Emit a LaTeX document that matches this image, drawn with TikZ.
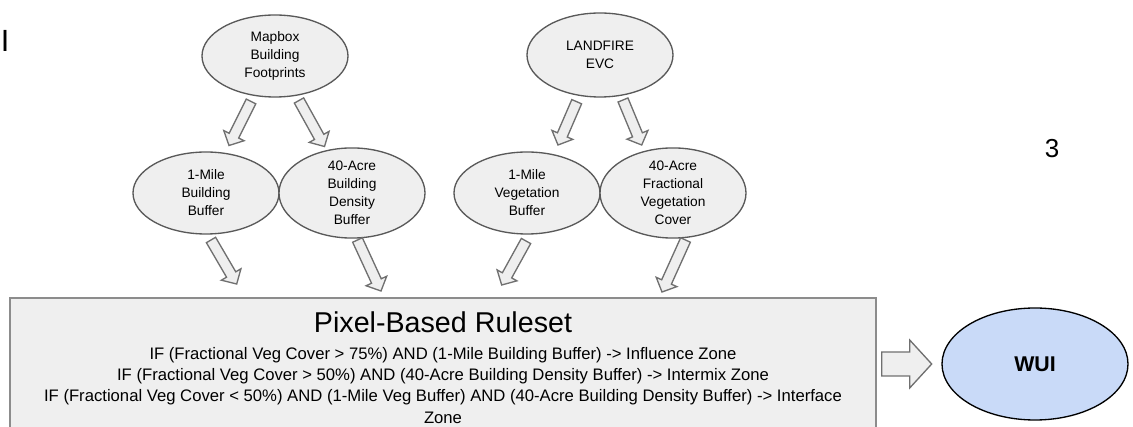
\documentclass[tikz,border=0pt]{standalone}
\usepackage{fontspec}
\setmainfont{Liberation Sans}
\usetikzlibrary{calc,shapes.geometric}
\definecolor{nodefill}{HTML}{EFEFEF}
\definecolor{nodeline}{HTML}{595959}
\definecolor{arrowline}{HTML}{707070}
\definecolor{boxline}{HTML}{8C8C8C}
\definecolor{wuifill}{HTML}{C9DAF8}
% block arrow: #1 start, #2 end, #3 shaft half width, #4 head half width, #5 head length
\newcommand\blockarrow[5]{%
  \coordinate (batmp) at ($(#2)!#5!(#1)$);
  \draw[blockarr] ($(#1)!#3!90:(#2)$) -- ($(batmp)!#3!90:(#2)$) -- ($(batmp)!#4!90:(#2)$)
    -- (#2) -- ($(batmp)!#4!-90:(#2)$) -- ($(batmp)!#3!-90:(#2)$) -- ($(#1)!#3!-90:(#2)$) -- cycle;}
\tikzset{
  src/.style={ellipse, draw=nodeline, fill=nodefill, line width=1pt, inner sep=0pt,
    align=center, minimum width=109.5pt, minimum height=61.5pt,
    font=\fontsize{10.3}{13.5}\selectfont},
  blockarr/.style={draw=arrowline, fill=nodefill, line width=1pt, line join=miter},
  rulebox/.style={draw=boxline, fill=nodefill, line width=1.5pt, rectangle, inner sep=0pt,
    minimum width=649.5pt, minimum height=106.5pt},
  ruletxt/.style={anchor=base, inner sep=0pt, font=\fontsize{12.5}{15}\selectfont},
  titletxt/.style={anchor=base, inner sep=0pt, font=\fontsize{21.5}{26}\selectfont},
  wuinode/.style={ellipse, draw=black, fill=wuifill, line width=1pt, inner sep=0pt,
    minimum width=139.5pt, minimum height=84pt, font=\fontsize{16}{19}\selectfont\bfseries},
  looselbl/.style={inner sep=0pt}
}
\begin{document}
\begin{tikzpicture}[x=0.75pt, y=-0.75pt]
\useasboundingbox (0,0) rectangle (1133,427);
% stray labels
\node[looselbl, anchor=base west, font=\fontsize{23}{27}\selectfont] (lblI) at (0.5,52) {I};
\node[looselbl, anchor=base, font=\fontsize{19.5}{23}\selectfont] (lbl3) at (1052,158) {3};
% sources
\node[src] (mapbox) at (275,56) {Mapbox\\Building\\Footprints};
\node[src, minimum height=63pt] (landfire) at (600,55) {LANDFIRE\\EVC};
% derived layers
\node[src] (mileb) at (206,193) {1-Mile\\Building\\Buffer};
\node[src] (acreb) at (352,193) {40-Acre\\Building\\Density\\Buffer};
\node[src] (milev) at (527,193) {1-Mile\\Vegetation\\Buffer};
\node[src] (acref) at (673,193) {40-Acre\\Fractional\\Vegetation\\Cover};
% ruleset box
\node[rulebox] (rules) at (443,369) {};
\node[titletxt] (rtitle) at (443,332.7) {Pixel-Based Ruleset};
\node[ruletxt] (r1) at (443,359.3) {IF (Fractional Veg Cover > 75\%) AND (1-Mile Building Buffer) -> Influence Zone};
\node[ruletxt] (r2) at (443,380.7) {IF (Fractional Veg Cover > 50\%) AND (40-Acre Building Density Buffer) -> Intermix Zone};
\node[ruletxt] (r3) at (443,402) {IF (Fractional Veg Cover < 50\%) AND (1-Mile Veg Buffer) AND (40-Acre Building Density Buffer) -> Interface};
\node[ruletxt] (r4) at (443,423.3) {Zone};
% result
\node[wuinode] (wui) at (1035,364) {WUI};
% arrow end points
\coordinate (a1s) at (251,101.5); \coordinate (a1e) at (229,145.5);
\coordinate (a2s) at (299,100.5); \coordinate (a2e) at (324.5,146.5);
\coordinate (a3s) at (576.7,101.7); \coordinate (a3e) at (558,145);
\coordinate (a4s) at (623,100); \coordinate (a4e) at (641.7,145);
\coordinate (a5s) at (211,240); \coordinate (a5e) at (236.7,284);
\coordinate (a6s) at (357.5,240); \coordinate (a6e) at (381,291);
\coordinate (a7s) at (526,241); \coordinate (a7e) at (501.7,285);
\coordinate (a8s) at (685.5,240); \coordinate (a8e) at (662,292);
\coordinate (a9s) at (rules.east |- wui.center);
\coordinate (a9) at ($(a9s)+(4.7,0)$); \coordinate (a9e) at (931.7,364);
\blockarrow{a1s}{a1e}{4pt}{8.5pt}{8.25pt}
\blockarrow{a2s}{a2e}{4pt}{8.5pt}{8.25pt}
\blockarrow{a3s}{a3e}{4pt}{8.5pt}{8.25pt}
\blockarrow{a4s}{a4e}{4pt}{8.5pt}{8.25pt}
\blockarrow{a5s}{a5e}{4pt}{8.5pt}{8.25pt}
\blockarrow{a6s}{a6e}{4pt}{8.5pt}{8.25pt}
\blockarrow{a7s}{a7e}{4pt}{8.5pt}{8.25pt}
\blockarrow{a8s}{a8e}{4pt}{8.5pt}{8.25pt}
\blockarrow{a9}{a9e}{9pt}{18pt}{16.5pt}
\end{tikzpicture}
\end{document}
